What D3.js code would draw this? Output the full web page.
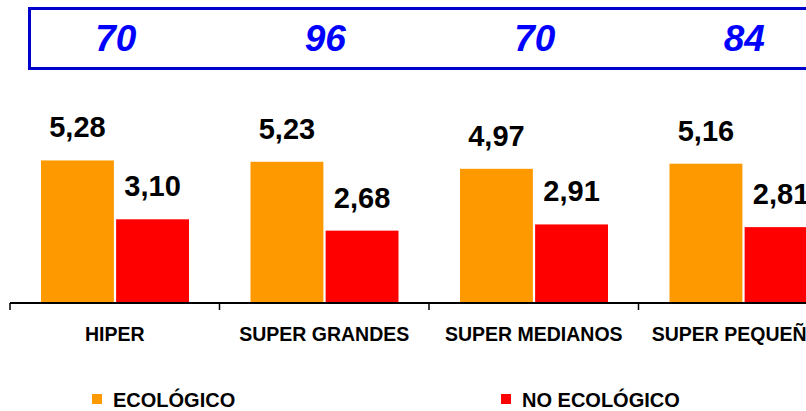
<!DOCTYPE html>
<html>
<head>
<meta charset="utf-8">
<script src="https://cdn.jsdelivr.net/npm/d3@7"></script>
<style>
  html, body { margin: 0; padding: 0; background: #fff; }
  svg { display: block; }
  text { font-family: Arial, "Liberation Sans", sans-serif; font-weight: bold; }
</style>
</head>
<body>
<svg id="chart" width="806" height="411"></svg>
<script>
const categories = ["HIPER", "SUPER GRANDES", "SUPER MEDIANOS", "SUPER PEQUEÑOS"];
const seriesNames = ["ECOLÓGICO", "NO ECOLÓGICO"];
const ecologico = [5.28, 5.23, 4.97, 5.16];
const noEcologico = [3.10, 2.68, 2.91, 2.81];
const boxNumbers = [70, 96, 70, 84];
const colors = ["#FF9900", "#FF0000"];

const svg = d3.select("#chart");
const W = 806, H = 411;

const x0 = d3.scaleBand().domain(categories).range([10, 848]).paddingInner(0).paddingOuter(0);
const x1 = d3.scaleBand().domain(seriesNames).range([31, 179]).paddingInner(0.03).paddingOuter(0);
const y = d3.scaleLinear().domain([0, 6]).range([303, 141]);

const fmt = v => v.toFixed(2).replace(".", ",");

// Top box with numbers
svg.append("rect")
  .attr("x", 29.5).attr("y", 8.5)
  .attr("width", 900).attr("height", 60)
  .attr("fill", "none")
  .attr("stroke", "#0000CC")
  .attr("stroke-width", 3);

svg.selectAll(".boxnum").data(boxNumbers).join("text")
  .attr("class", "boxnum")
  .attr("x", (d, i) => x0(categories[i]) + x0.bandwidth() / 2 + 1)
  .attr("y", 51)
  .attr("text-anchor", "middle")
  .attr("fill", "#0000FF")
  .attr("font-style", "italic")
  .attr("font-size", 37)
  .text(d => d);

// Data rows
const rows = categories.map((c, i) => ({ cat: c, vals: [ecologico[i], noEcologico[i]] }));

const groups = svg.selectAll(".grp").data(rows).join("g")
  .attr("class", "grp")
  .attr("transform", d => `translate(${x0(d.cat)},0)`);

groups.selectAll("rect").data(d => d.vals.map((v, j) => ({ s: seriesNames[j], v, j }))).join("rect")
  .attr("x", d => x1(d.s))
  .attr("y", d => y(d.v))
  .attr("width", x1.bandwidth())
  .attr("height", d => y(0) - y(d.v))
  .attr("fill", d => colors[d.j]);

groups.selectAll(".val").data(d => d.vals.map((v, j) => ({ s: seriesNames[j], v, j }))).join("text")
  .attr("class", "val")
  .attr("x", d => x1(d.s) + x1.bandwidth() / 2)
  .attr("y", d => y(d.v) - 23)
  .attr("text-anchor", "middle")
  .attr("font-size", 29)
  .attr("fill", "#000")
  .text(d => fmt(d.v));

// Axis
const axis = svg.append("g").attr("class", "axis");
axis.append("line")
  .attr("x1", 10).attr("x2", W + 10)
  .attr("y1", y(0)).attr("y2", y(0))
  .attr("stroke", "#000").attr("stroke-width", 2);

const tickPos = categories.map(c => x0(c)).concat([x0.range()[1]]);
axis.selectAll(".tick").data(tickPos).join("line")
  .attr("class", "tick")
  .attr("x1", d => d).attr("x2", d => d)
  .attr("y1", y(0)).attr("y2", y(0) + 7)
  .attr("stroke", "#000").attr("stroke-width", 1.5);

axis.selectAll(".catlabel").data(categories).join("text")
  .attr("class", "catlabel")
  .attr("x", d => x0(d) + x0.bandwidth() / 2)
  .attr("y", 341)
  .attr("text-anchor", "middle")
  .attr("font-size", 19.5)
  .attr("fill", "#000")
  .text(d => d);

// Legend
const legendX = [92, 501];
const legend = svg.selectAll(".leg").data(seriesNames).join("g")
  .attr("class", "leg")
  .attr("transform", (d, i) => `translate(${legendX[i]},394)`);
legend.append("rect")
  .attr("width", 10).attr("height", 10)
  .attr("fill", (d, i) => colors[i]);
legend.append("text")
  .attr("x", 21).attr("y", 13)
  .attr("font-size", 20)
  .attr("fill", "#000")
  .text(d => d);
</script>
</body>
</html>
